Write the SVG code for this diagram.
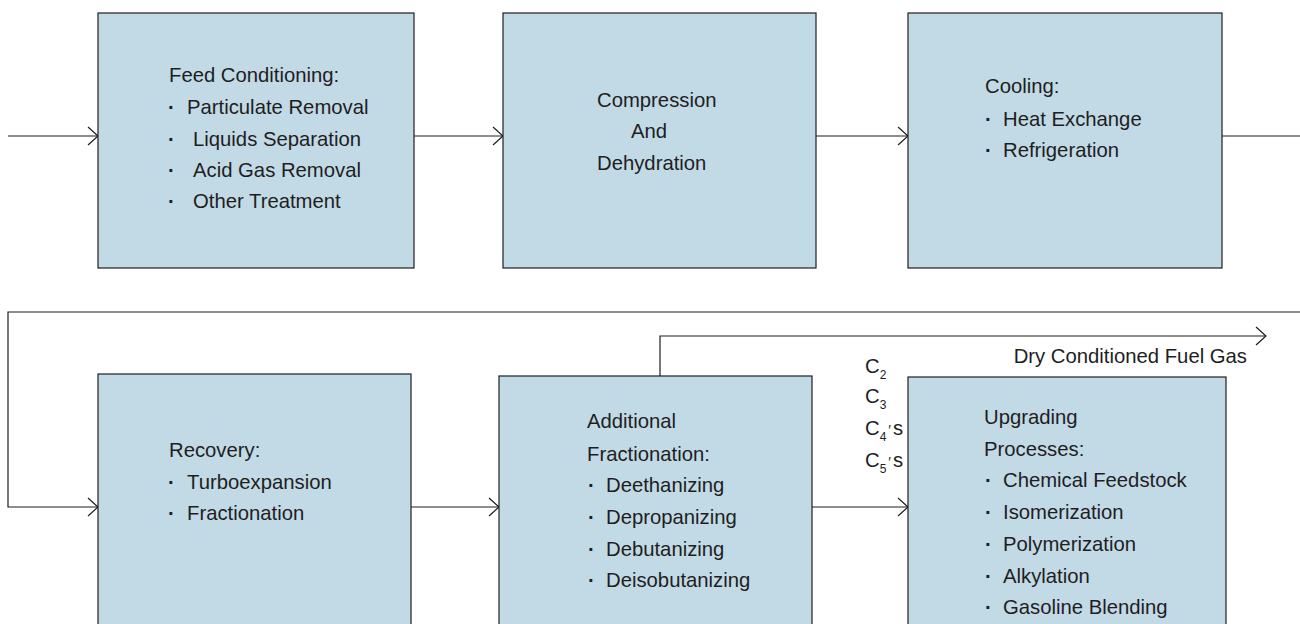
<svg xmlns="http://www.w3.org/2000/svg" width="1300" height="624" viewBox="0 0 1300 624">
<defs>
<style>
.box{fill:#c2dae6;stroke:#1e1e1e;stroke-width:1.2}
.t{font-family:"Liberation Sans",Arial,sans-serif;font-size:20.3px;fill:#1e1e1e}
.b{font-weight:bold}
.sub{font-size:12px}
.ln{fill:none;stroke:#1e1e1e;stroke-width:1.2}
</style>
<marker id="arr" viewBox="0 0 12 20" refX="11" refY="10" markerWidth="12" markerHeight="20" markerUnits="userSpaceOnUse" orient="auto">
<path d="M1,1 L11,10 L1,19" fill="none" stroke="#1e1e1e" stroke-width="1.2"/>
</marker>
</defs>
<rect width="1300" height="624" fill="#ffffff"/>
<g id="connectors">
<line class="ln" x1="8" y1="136" x2="98" y2="136" marker-end="url(#arr)"/>
<line class="ln" x1="414" y1="136" x2="503" y2="136" marker-end="url(#arr)"/>
<line class="ln" x1="816" y1="136" x2="908" y2="136" marker-end="url(#arr)"/>
<line class="ln" x1="1222" y1="136" x2="1300" y2="136"/>
<polyline class="ln" points="1300,312 8,312 8,507 98,507" marker-end="url(#arr)"/>
<line class="ln" x1="411" y1="507" x2="499" y2="507" marker-end="url(#arr)"/>
<line class="ln" x1="812" y1="507" x2="908" y2="507" marker-end="url(#arr)"/>
<polyline class="ln" points="660,376 660,336 1266,336" marker-end="url(#arr)"/>
</g>
<g id="n1">
<rect class="box" x="98" y="13" width="316" height="255"/>
<text class="t" x="169" y="82">Feed Conditioning:</text>
<text class="t b" x="168" y="114">·</text><text class="t" x="187" y="114">Particulate Removal</text>
<text class="t b" x="168" y="146">·</text><text class="t" x="193" y="146">Liquids Separation</text>
<text class="t b" x="168" y="177">·</text><text class="t" x="193" y="177">Acid Gas Removal</text>
<text class="t b" x="168" y="208">·</text><text class="t" x="193" y="208">Other Treatment</text>
</g>
<g id="n2">
<rect class="box" x="503" y="13" width="313" height="255"/>
<text class="t" x="597" y="107">Compression</text>
<text class="t" x="631" y="138">And</text>
<text class="t" x="597" y="170">Dehydration</text>
</g>
<g id="n3">
<rect class="box" x="908" y="13" width="314" height="255"/>
<text class="t" x="985" y="93">Cooling:</text>
<text class="t b" x="985" y="126">·</text><text class="t" x="1003" y="126">Heat Exchange</text>
<text class="t b" x="985" y="157">·</text><text class="t" x="1003" y="157">Refrigeration</text>
</g>
<g id="n4">
<rect class="box" x="98" y="374" width="313" height="270"/>
<text class="t" x="169" y="457">Recovery:</text>
<text class="t b" x="168" y="489">·</text><text class="t" x="187" y="489">Turboexpansion</text>
<text class="t b" x="168" y="520">·</text><text class="t" x="187" y="520">Fractionation</text>
</g>
<g id="n5">
<rect class="box" x="499" y="376" width="313" height="270"/>
<text class="t" x="587" y="428">Additional</text>
<text class="t" x="587" y="461">Fractionation:</text>
<text class="t b" x="588" y="492">·</text><text class="t" x="606" y="492">Deethanizing</text>
<text class="t b" x="588" y="524">·</text><text class="t" x="606" y="524">Depropanizing</text>
<text class="t b" x="588" y="556">·</text><text class="t" x="606" y="556">Debutanizing</text>
<text class="t b" x="588" y="587">·</text><text class="t" x="606" y="587">Deisobutanizing</text>
</g>
<g id="n6">
<rect class="box" x="908" y="377" width="318" height="270"/>
<text class="t" x="984" y="424">Upgrading</text>
<text class="t" x="984" y="456">Processes:</text>
<text class="t b" x="985" y="487">·</text><text class="t" x="1003" y="487">Chemical Feedstock</text>
<text class="t b" x="985" y="519">·</text><text class="t" x="1003" y="519">Isomerization</text>
<text class="t b" x="985" y="551">·</text><text class="t" x="1003" y="551">Polymerization</text>
<text class="t b" x="985" y="583">·</text><text class="t" x="1003" y="583">Alkylation</text>
<text class="t b" x="985" y="614">·</text><text class="t" x="1003" y="614">Gasoline Blending</text>
</g>
<g id="labels">
<text class="t" x="1247" y="363" text-anchor="end">Dry Conditioned Fuel Gas</text>
<text class="t" x="865" y="373">C<tspan class="sub" dy="6">2</tspan></text>
<text class="t" x="865" y="403">C<tspan class="sub" dy="6">3</tspan></text>
<text class="t" x="865" y="435">C<tspan class="sub" dy="6">4</tspan><tspan dx="2" dy="-6" font-size="14">′</tspan><tspan dx="2">s</tspan></text>
<text class="t" x="865" y="467">C<tspan class="sub" dy="6">5</tspan><tspan dx="2" dy="-6" font-size="14">′</tspan><tspan dx="2">s</tspan></text>
</g>
</svg>
